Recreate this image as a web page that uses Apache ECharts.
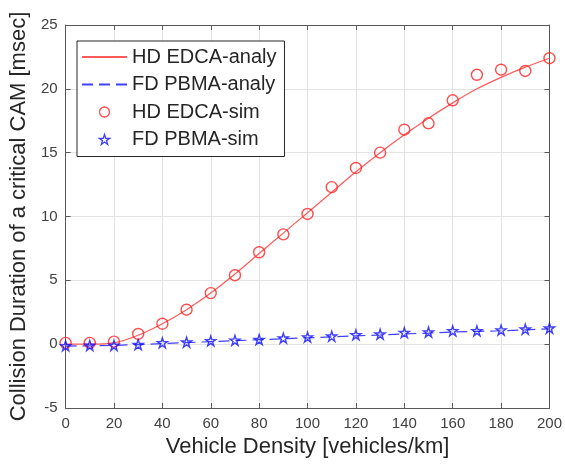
<!DOCTYPE html>
<html>
<head>
<meta charset="utf-8">
<script src="https://cdn.jsdelivr.net/npm/echarts@6/dist/echarts.min.js"></script>
<style>
    html, body { margin: 0; padding: 0; background: #fff; }
    #chart { width: 565px; height: 464px; }
</style>
</head>
<body>
<div id="chart"></div>
<script>
// vehicle density (x)
const density = [0, 10, 20, 30, 40, 50, 60, 70, 80, 90, 100, 110, 120, 130, 140, 150, 160, 170, 180, 190, 200]
// HD EDCA analytic curve
const hdAnaly = [0, 0, 0.1, 0.7, 1.6, 2.7, 4.0, 5.5, 7.1, 8.7, 10.3, 11.9, 13.5, 15.0, 16.4, 17.7, 18.9, 20.0, 20.9, 21.7, 22.4]
// FD PBMA analytic curve
const fdAnaly = [-0.15, -0.13, -0.1, -0.03, 0.05, 0.12, 0.2, 0.27, 0.35, 0.42, 0.5, 0.57, 0.65, 0.72, 0.8, 0.87, 0.95, 1.0, 1.05, 1.12, 1.2]
// HD EDCA simulation
const hdSim = [0.1, 0.1, 0.2, 0.8, 1.6, 2.7, 4.0, 5.4, 7.2, 8.6, 10.2, 12.3, 13.8, 15.0, 16.8, 17.3, 19.1, 21.1, 21.5, 21.4, 22.4]
// FD PBMA simulation
const fdSim = [-0.13, -0.1, -0.1, -0.03, 0.1, 0.15, 0.26, 0.3, 0.36, 0.47, 0.55, 0.62, 0.73, 0.78, 0.9, 0.94, 1.04, 1.04, 1.1, 1.17, 1.25]

const xTicks = { min: 0, max: 200, interval: 20 }
const yTicks = { min: -5, max: 25, interval: 5 }

const starPath = 'path://M50,2 L61,36 L97,36 L68,57 L79,92 L50,70 L21,92 L32,57 L3,36 L39,36 Z'
const font = 'Liberation Sans, Arial, Helvetica, sans-serif'
const frameColor = '#595959'
const clear = 'rgba(0,0,0,0)'

const pairs = ys => density.map((x, i) => [x, ys[i]])

// box around the plot, ticks inside on all four sides (matlab style)
const makeAxis = (ticks, pos, showLabel, extra) => Object.assign({
    type: 'value',
    position: pos,
    min: ticks.min,
    max: ticks.max,
    interval: ticks.interval,
    axisLine: { show: true, onZero: false, lineStyle: { color: frameColor, width: 1 } },
    axisTick: { show: true, inside: true, length: 5, lineStyle: { color: frameColor } },
    axisLabel: { show: showLabel, color: '#404040', fontSize: 15, fontFamily: font },
    splitLine: { show: showLabel, lineStyle: { color: '#e3e3e3', width: 1 } },
}, extra)

var myChart = echarts.init(document.getElementById('chart'))
var option = {
    backgroundColor: '#fff',
    animation: false,
    grid: { left: 61, right: 14, top: 25, bottom: 56, containLabel: false },
    legend: {
        orient: 'vertical',
        left: 77,
        top: 41,
        itemWidth: 45,
        itemHeight: 10,
        itemGap: 7.5,
        padding: [6, 8, 7, 4],
        backgroundColor: '#fff',
        borderColor: '#262626',
        borderWidth: 1,
        borderRadius: 0,
        textStyle: { fontSize: 20, color: '#262626', fontFamily: font },
        data: [
            'HD EDCA-analy',
            'FD PBMA-analy',
            { name: 'HD EDCA-sim', itemStyle: { color: clear, borderColor: '#ff2020', borderWidth: 1.3 } },
            { name: 'FD PBMA-sim', itemStyle: { color: clear, borderColor: '#1010ff', borderWidth: 1.3 } },
        ],
    },
    xAxis: [
        makeAxis(xTicks, 'bottom', true, {
            name: 'Vehicle Density [vehicles/km]',
            nameLocation: 'middle',
            nameGap: 28,
            nameTextStyle: { fontSize: 22, color: '#262626', fontFamily: font },
        }),
        makeAxis(xTicks, 'top', false),
    ],
    yAxis: [
        makeAxis(yTicks, 'left', true, {
            name: 'Collision Duration of a critical CAM [msec]',
            nameLocation: 'middle',
            nameGap: 30,
            nameTextStyle: { fontSize: 22, color: '#262626', fontFamily: font },
        }),
        makeAxis(yTicks, 'right', false),
    ],
    series: [
        {
            name: 'HD EDCA-analy',
            type: 'line',
            data: pairs(hdAnaly),
            smooth: 0.3,
            symbol: 'none',
            lineStyle: { color: '#ff5a5a', width: 1.2 },
            // transparent so the legend shows only the line
            itemStyle: { color: clear, borderWidth: 0 },
            z: 2,
        },
        {
            name: 'FD PBMA-analy',
            type: 'line',
            data: pairs(fdAnaly),
            symbol: 'none',
            lineStyle: { color: '#4040ff', width: 1.2, type: [11, 6] },
            itemStyle: { color: clear, borderWidth: 0 },
            z: 2,
        },
        {
            name: 'HD EDCA-sim',
            type: 'scatter',
            data: pairs(hdSim),
            symbol: 'circle',
            symbolSize: 11,
            itemStyle: { color: clear, borderColor: '#ff2020', borderWidth: 1.4 },
            z: 3,
        },
        {
            name: 'FD PBMA-sim',
            type: 'scatter',
            data: pairs(fdSim),
            symbol: starPath,
            symbolSize: 10,
            itemStyle: { color: clear, borderColor: '#1010ff', borderWidth: 1.4 },
            z: 3,
        },
    ],
}
myChart.setOption(option)
</script>
</body>
</html>
